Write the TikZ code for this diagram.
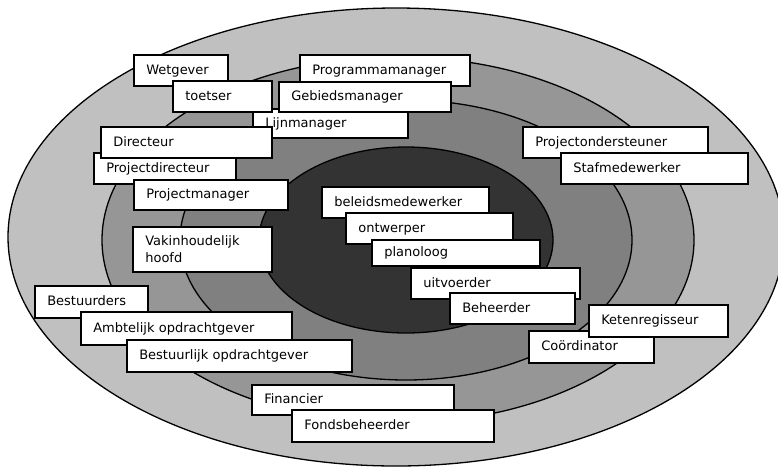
\documentclass[tikz,border=0pt]{standalone}
\usepackage{fontspec}
\newfontfamily\rolefont{DejaVu Sans}
\definecolor{ringA}{HTML}{C0C0C0}
\definecolor{ringB}{HTML}{969696}
\definecolor{ringC}{HTML}{808080}
\definecolor{ringD}{HTML}{333333}
\tikzset{
  ring/.style={draw=black, line width=1.3pt},
  role/.style={draw=black, fill=white, line width=1.6pt, anchor=north west,
    inner xsep=12.5pt, inner ysep=0pt, align=left,
    font={\rolefont\fontsize{13}{17}\selectfont},
    text height=9.5pt, text depth=1.5pt},
}
\begin{document}
\begin{tikzpicture}[x=1pt, y=-1pt]
  \useasboundingbox (0,0) rectangle (778,467);
  \clip (0,0) rectangle (778,467);

  % concentric rings
  \path[ring, fill=ringA] (396,237) ellipse [x radius=388, y radius=229];
  \path[ring, fill=ringB] (398,240) ellipse [x radius=296, y radius=183];
  \path[ring, fill=ringC] (406,240) ellipse [x radius=226, y radius=140];
  \path[ring, fill=ringD] (406,240) ellipse [x radius=147, y radius=93];

  % top cluster
  \node[role, text width=69pt,  minimum height=31pt] (wetgever) at (133,54) {Wetgever};
  \node[role, text width=145pt, minimum height=31pt] (programma) at (299,54) {Programmamanager};
  \node[role, text width=130pt, minimum height=29pt] (lijn) at (252,108) {Lijnmanager};
  \node[role, text width=74pt,  minimum height=31pt] (toetser) at (172,80) {toetser};
  \node[role, text width=147pt, minimum height=30pt] (gebied) at (278,81) {Gebiedsmanager};

  % left upper cluster
  \node[role, text width=117pt, minimum height=31pt] (projdir) at (93,152) {Projectdirecteur};
  \node[role, text width=146pt, minimum height=31pt] (directeur) at (100,126) {Directeur};
  \node[role, text width=129pt, minimum height=30pt] (projman) at (133,179) {Projectmanager};
  \node[role, text width=114pt, minimum height=45pt, text height=10pt, text depth=17pt]
    (vakhoofd) at (132,226) {Vakinhoudelijk\\hoofd};

  % core staircase
  \node[role, text width=142pt, minimum height=31pt] (beleid) at (321,186) {beleidsmedewerker};
  \node[role, text width=142pt, minimum height=31pt] (ontwerper) at (345,212) {ontwerper};
  \node[role, text width=143pt, minimum height=26pt] (planoloog) at (371,239) {planoloog};
  \node[role, text width=144pt, minimum height=31pt] (uitvoerder) at (410,267) {uitvoerder};
  \node[role, text width=100pt, minimum height=31pt] (beheerder) at (449,292) {Beheerder};

  % right cluster
  \node[role, text width=160pt, minimum height=31pt] (ondersteuner) at (522,126) {Projectondersteuner};
  \node[role, text width=162pt, minimum height=31pt] (staf) at (560,152) {Stafmedewerker};
  \node[role, text width=100pt, minimum height=32pt] (coordinator) at (528,330) {Coördinator};
  \node[role, text width=114pt, minimum height=32pt] (keten) at (588,304) {Ketenregisseur};

  % lower left cluster
  \node[role, text width=88pt,  minimum height=32pt] (bestuurders) at (34,285) {Bestuurders};
  \node[role, text width=186pt, minimum height=33pt] (ambtelijk) at (80,311) {Ambtelijk opdrachtgever};
  \node[role, text width=200pt, minimum height=32pt] (bestuurlijk) at (126,339) {Bestuurlijk opdrachtgever};

  % bottom cluster
  \node[role, text width=177pt, minimum height=30pt] (financier) at (251,384) {Financier};
  \node[role, text width=177pt, minimum height=32pt] (fonds) at (291,409) {Fondsbeheerder};
\end{tikzpicture}
\end{document}
